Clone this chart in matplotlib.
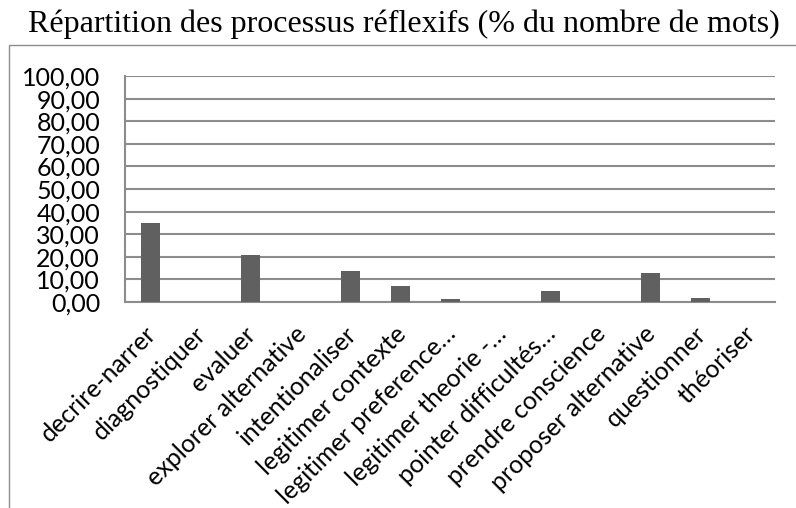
import matplotlib.pyplot as plt
from matplotlib.patches import Rectangle
from matplotlib.transforms import ScaledTranslation

categories = [
    "decrire-narrer", "diagnostiquer", "evaluer", "explorer alternative",
    "intentionaliser", "legitimer contexte", "legitimer preference…",
    "legitimer theorie -…", "pointer difficultés…", "prendre conscience",
    "proposer alternative", "questionner", "théoriser",
]
values = [35.0, 0.0, 21.0, 0.0, 13.8, 6.9, 1.3, 0.0, 5.0, 0.2, 12.8, 1.6, 0.0]
yticks = [0, 10, 20, 30, 40, 50, 60, 70, 80, 90, 100]
ytick_labels = [f"{v:.2f}".replace(".", ",") for v in yticks]

grid_col = "#8c8c8c"
bar_col = "#606060"

fig = plt.figure(figsize=(7.96, 5.08), dpi=100)
ax = fig.add_axes([125 / 796, 1 - 302 / 508, 650 / 796, 226 / 508])

# cadre extérieur du graphique
fig.patches.append(Rectangle((9 / 796, -0.1), 1.2, 1.1 - 45 / 508,
                             transform=fig.transFigure, fill=False,
                             edgecolor=grid_col, linewidth=1.0))

x = range(len(categories))
ax.bar(x, values, width=0.38, color=bar_col, zorder=3)

ax.set_xlim(-0.5, len(categories) - 0.5)
ax.set_ylim(0, 100)
ax.set_yticks(yticks)
ax.set_yticklabels(ytick_labels, fontsize=18, family="Lato")
ax.yaxis.grid(True, color=grid_col, linewidth=1.5)
ax.set_axisbelow(True)

for side in ["top", "right"]:
    ax.spines[side].set_visible(False)
for side in ["left", "bottom"]:
    ax.spines[side].set_color(grid_col)
    ax.spines[side].set_linewidth(1.5)

ax.tick_params(axis="y", length=0, pad=18)
ax.tick_params(axis="x", length=0, pad=0)
ax.set_xticks(list(x))
ax.set_xticklabels(categories, rotation=45, ha="right", va="top",
                   rotation_mode="anchor", fontsize=18, family="Lato")
offset = ScaledTranslation(-0.06, -0.20, fig.dpi_scale_trans)
for lab in ax.get_xticklabels():
    lab.set_transform(lab.get_transform() + offset)

fig.text(0.508, 0.953, "Répartition des processus réflexifs (% du nombre de mots)",
         ha="center", va="center", fontsize=23, family="Liberation Serif")

fig.savefig("out.png", dpi=100)
